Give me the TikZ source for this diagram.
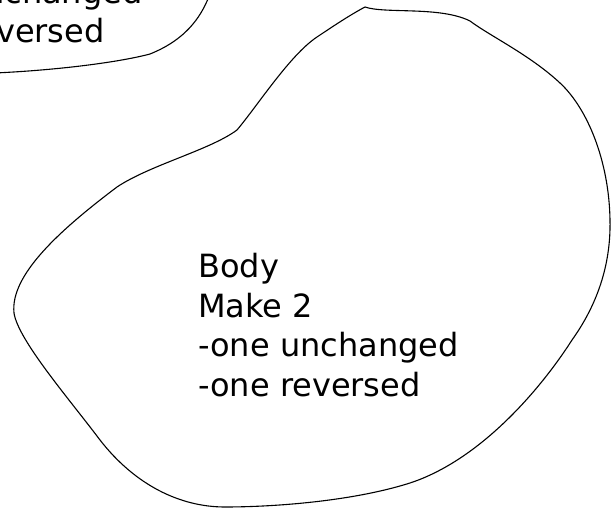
\documentclass[tikz,border=0pt]{standalone}
\usepackage{fontspec}
\setmainfont{DejaVu Sans}

\begin{document}
\begin{tikzpicture}[x=1pt, y=-1pt,
        blobline/.style={line width=1.1pt, line join=round},
        note/.style={inner sep=0pt, font=\fontsize{32}{39.5}\selectfont}]
        \useasboundingbox (0,0) rectangle (613,510);

        % the cut-off blob in the corner
        \begin{scope}
            \clip (0,0) rectangle (613,510);
            \draw[blobline] (210,-6) .. controls (203,12) and (190,38) .. (150,54)
                            .. controls (120,62) and (60,70) .. (-5,73);
            \node[note, anchor=base west] (oldunch) at (-16,4) {nchanged};
            \node[note, anchor=base west] (oldrev) at (-4,43) {versed};
        \end{scope}

        % the big blob
        \draw[blobline] (365,7) .. controls (385,14) and (440,6) .. (470,21)
                        .. controls (490,36) and (530,55) .. (560,83)
                        .. controls (587,108) and (609,160) .. (610,220)
                        .. controls (611,265) and (597,305) .. (572,340)
                        .. controls (540,390) and (480,460) .. (410,483)
                        .. controls (350,502) and (270,507) .. (225,507)
                        .. controls (180,507) and (135,485) .. (100,440)
                        .. controls (70,400) and (18,340) .. (14,313)
                        .. controls (10,275) and (60,230) .. (117,187)
                        .. controls (150,165) and (210,150) .. (237,130)
                        .. controls (258,105) and (290,55) .. (317,37)
                        .. controls (335,25) and (350,15) .. (365,7) -- cycle;

        \node[note, align=left, anchor=north west] (body) at (198,253)
            {Body\\Make 2\\-one unchanged\\-one reversed};
    \end{tikzpicture}
\end{document}
